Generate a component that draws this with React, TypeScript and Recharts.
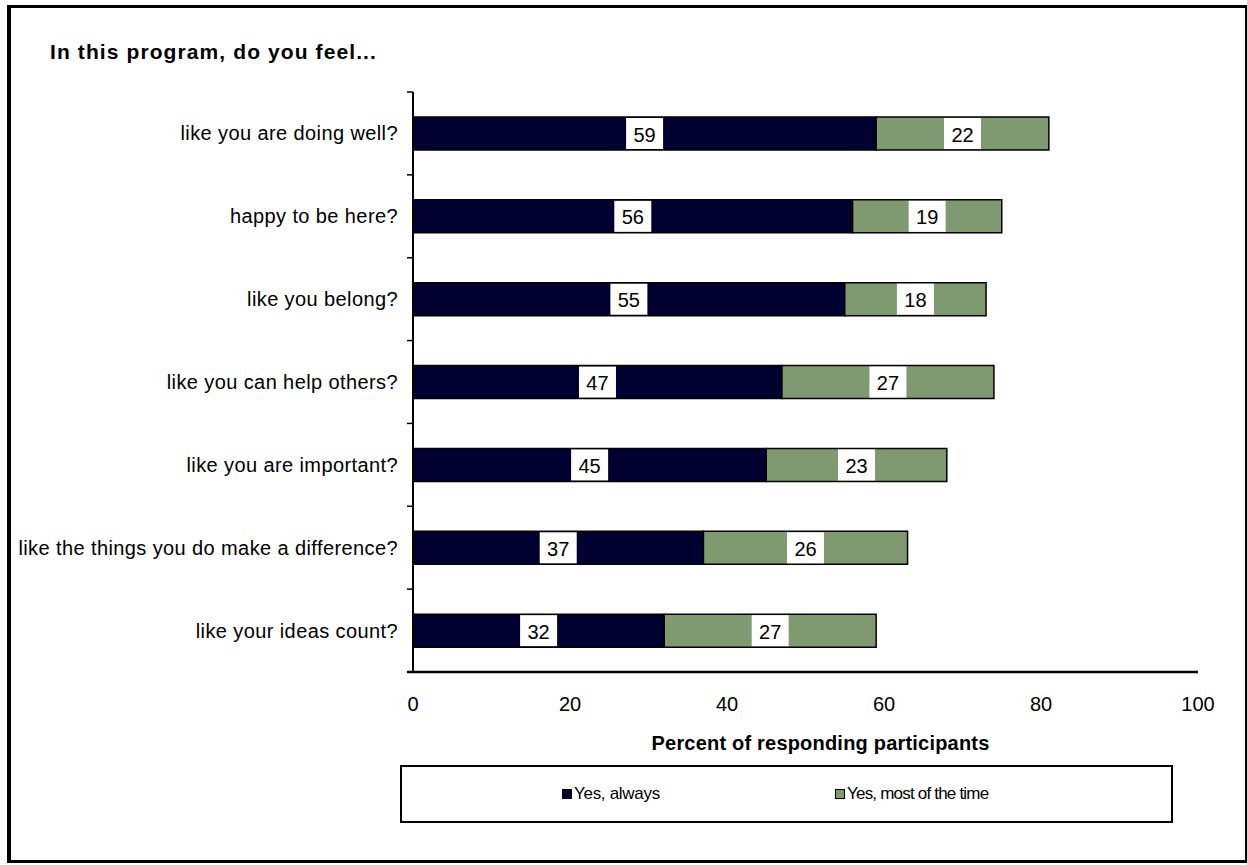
import { BarChart, Bar, XAxis, YAxis, LabelList } from 'recharts'

const questions = [
  'like you are doing well?',
  'happy to be here?',
  'like you belong?',
  'like you can help others?',
  'like you are important?',
  'like the things you do make a difference?',
  'like your ideas count?',
]
const always = [59, 56, 55, 47, 45, 37, 32]
const mostTime = [22, 19, 18, 27, 23, 26, 27]
const xTicks = [0, 20, 40, 60, 80, 100]

const NAVY = '#000030'
const GREEN = '#7F9A70'
const FONT = '"Liberation Sans", Arial, sans-serif'

// plot area in page pixels
const W = 1247
const H = 865
const PLOT_TOP = 92
const PLOT_BOTTOM = 672
const PLOT_LEFT = 413
const PLOT_RIGHT = 1198
const Y_AXIS_W = 400
const X_AXIS_H = 78

const data = questions.map((q, i) => ({ q, always: always[i], most: mostTime[i] }))
const step = (PLOT_BOTTOM - PLOT_TOP) / questions.length

function CategoryTick(props: any) {
  const { x, y, payload, index } = props
  const last = index === questions.length - 1
  return (
    <g>
      <text x={x} y={y} textAnchor="end" dominantBaseline="central" fontSize={20} fill="#000" fontFamily={FONT} letterSpacing={0.4}>
        {payload.value}
      </text>
      <line x1={PLOT_LEFT - 6} x2={PLOT_LEFT} y1={y - step / 2} y2={y - step / 2} stroke="#000" strokeWidth={1.5} />
      {last && <line x1={PLOT_LEFT - 6} x2={PLOT_LEFT} y1={y + step / 2} y2={y + step / 2} stroke="#000" strokeWidth={2.5} />}
    </g>
  )
}

function ValueBox(props: any) {
  const { x, y, width, height, value } = props
  const cx = x + width / 2
  const bw = 37
  return (
    <g>
      <rect x={cx - bw / 2} y={y + 1} width={bw} height={height - 2} fill="#fff" />
      <text x={cx} y={y + height / 2 + 1} textAnchor="middle" dominantBaseline="central" fontSize={20} fontFamily={FONT} fill="#000">
        {value}
      </text>
    </g>
  )
}

function LegendBox() {
  const item = (color: string, label: string, spacing: number) => (
    <span style={{ display: 'inline-flex', alignItems: 'center', fontSize: 17, letterSpacing: spacing }}>
      <span style={{ width: 8, height: 8, background: color, border: '1px solid #000', marginRight: 2 }} />
      {label}
    </span>
  )
  return (
    <div
      style={{
        position: 'absolute', left: 400, top: 765, width: 769, height: 54,
        border: '2px solid #000', fontFamily: FONT, display: 'flex', alignItems: 'center',
      }}
    >
      <div style={{ position: 'absolute', left: 160 }}>{item(NAVY, 'Yes, always', -0.3)}</div>
      <div style={{ position: 'absolute', left: 433 }}>{item(GREEN, 'Yes, most of the time', -0.8)}</div>
    </div>
  )
}

export default function App() {
  return (
    <div style={{ position: 'absolute', left: 0, top: 0, width: W, height: H, background: '#fff', fontFamily: FONT }}>
      <div style={{ position: 'absolute', left: 7, top: 5, width: 1234, height: 852, border: '3px solid #000', borderLeftWidth: 4 }} />
      <div style={{ position: 'absolute', left: 50, top: 40, fontSize: 21, fontWeight: 'bold', letterSpacing: 1.1, whiteSpace: 'nowrap' }}>
        In this program, do you feel...
      </div>
      <div style={{ position: 'absolute', left: 0, top: 0 }}>
        <BarChart
          width={W}
          height={H}
          data={data}
          layout="vertical"
          barSize={33}
          margin={{ top: PLOT_TOP, bottom: H - PLOT_BOTTOM - X_AXIS_H, left: PLOT_LEFT - Y_AXIS_W, right: W - PLOT_RIGHT }}
        >
          <XAxis
            type="number"
            domain={[0, 100]}
            ticks={xTicks}
            height={X_AXIS_H}
            tickLine={false}
            tickSize={6}
            tickMargin={19}
            axisLine={{ stroke: '#000', strokeWidth: 2.5 }}
            tick={{ fontSize: 20, fill: '#000', fontFamily: FONT }}
            label={{ value: 'Percent of responding participants', position: 'insideBottom', offset: 0, dx: 15, fontSize: 20, fontWeight: 'bold', fill: '#000', fontFamily: FONT, letterSpacing: 0.2 }}
          />
          <XAxis
            xAxisId="top"
            orientation="top"
            type="number"
            domain={[0, 100]}
            height={0}
            tick={false}
            tickLine={false}
            axisLine={{ stroke: '#888', strokeWidth: 2 }}
          />
          <YAxis
            type="category"
            dataKey="q"
            width={Y_AXIS_W}
            tickLine={false}
            tickSize={6}
            tickMargin={9}
            interval={0}
            axisLine={{ stroke: '#000', strokeWidth: 2 }}
            tick={<CategoryTick />}
          />
          <YAxis
            yAxisId="right"
            orientation="right"
            type="category"
            dataKey="q"
            width={0}
            tick={false}
            tickLine={false}
            axisLine={{ stroke: '#888', strokeWidth: 2 }}
          />
          <Bar dataKey="always" stackId="a" fill={NAVY} stroke="#000" strokeWidth={1.5} isAnimationActive={false}>
            <LabelList dataKey="always" content={<ValueBox />} />
          </Bar>
          <Bar dataKey="most" stackId="a" fill={GREEN} stroke="#000" strokeWidth={1.5} isAnimationActive={false}>
            <LabelList dataKey="most" content={<ValueBox />} />
          </Bar>
        </BarChart>
      </div>
      <LegendBox />
    </div>
  )
}
